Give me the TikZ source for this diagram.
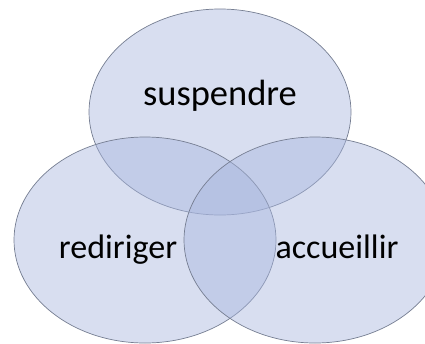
\documentclass[tikz,border=0pt]{standalone}
\usepackage{fontspec}
\setmainfont{Carlito}
\usetikzlibrary{shapes.geometric}

\definecolor{vennfill}{RGB}{168,182,222}
\definecolor{vennline}{RGB}{118,126,146}

\tikzstyle{set} = [ellipse, minimum width=262pt, minimum height=206pt, inner sep=0pt, draw=vennline, line width=0.7pt, fill=vennfill, fill opacity=0.45, draw opacity=1]
\tikzstyle{set-nb} = [inner sep=0pt, anchor=base, font=\fontsize{34}{40}\selectfont]

\begin{document}
\begin{tikzpicture}[x=1pt, y=-1pt]
  \useasboundingbox (0,0) rectangle (425,343);
  \clip (0,0) rectangle (425,343);
  \node (top) [set] at (220,112) {};
  \node (left) [set] at (145,240) {};
  \node (right) [set] at (315,240) {};
  \node (suspendre) [set-nb, font=\fontsize{36.5}{42}\selectfont] at (220,105) {suspendre};
  \node (rediriger) [set-nb] at (118,258) {rediriger};
  \node (accueillir) [set-nb] at (337,258) {accueillir};
\end{tikzpicture}
\end{document}
